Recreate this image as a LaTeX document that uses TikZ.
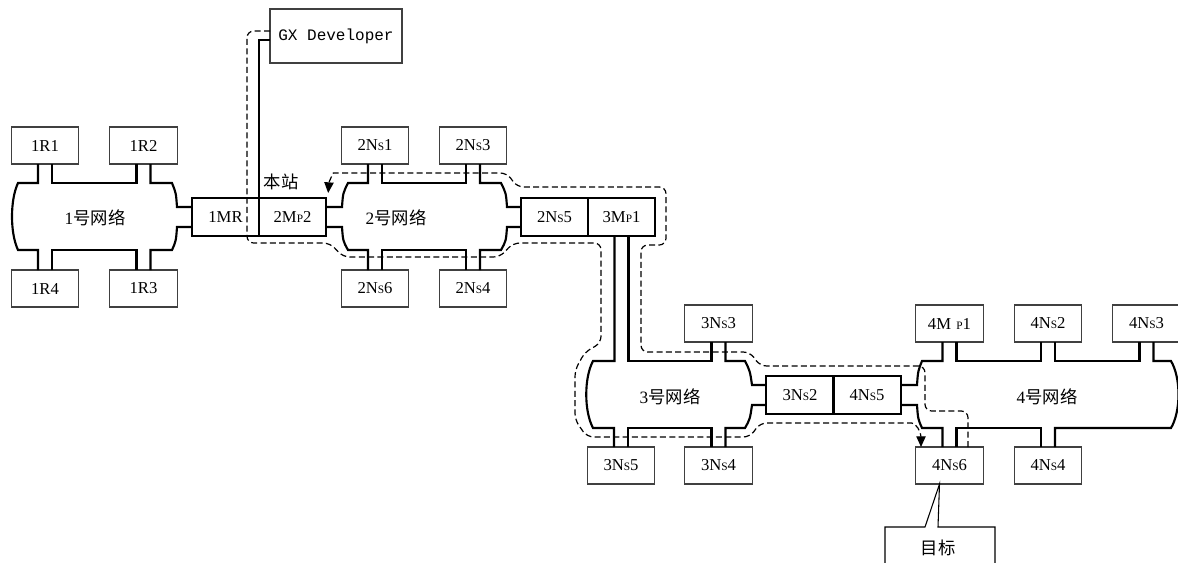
\documentclass[tikz,border=0pt]{standalone}
\usepackage{fontspec}
\setmainfont{Liberation Serif}
\setmonofont{Liberation Mono}
\newfontfamily\cjk{Noto Sans CJK SC}
\usetikzlibrary{arrows.meta,calc}
\newcommand{\sm}[1]{{\fontsize{8.5}{8.5}\selectfont #1}}

\begin{document}
\begin{tikzpicture}[
  x=0.75pt, y=-0.75pt,
  box/.style={draw=black!75, line width=0.9pt, minimum width=50.5pt, minimum height=27.75pt,
              inner sep=0pt, outer sep=0pt, font=\fontsize{12.5}{14}\selectfont},
  relay/.style={box, draw=black, line width=1.5pt, minimum height=28.5pt},
  net/.style={line width=1.6pt},
  netname/.style={font=\fontsize{13}{15}\selectfont},
  route/.style={draw=black, dash pattern=on 4.5pt off 2.5pt, line width=0.9pt, rounded corners=5pt},
  >={Triangle[length=8pt,width=7pt]}
]
  \useasboundingbox (0,0) rectangle (1178,562);
  \clip (0,0) rectangle (1178,562);

  % network 1
  \node[box] (r1) at (45,145.5) {1R1};
  \node[box] (r2) at (143.5,145.5) {1R2};
  \node[box] (r4) at (45,288.5) {1R4};
  \node[box] (r3) at (143.5,288.5) {1R3};
  \node[netname] (net1) at (95,218) {1{\cjk 号网络}};

  \node[relay] (mr1) at (225.5,217) {1MR};
  \node[relay] (mp2) at (292.5,217) {2M\sm{P}2};
  \node[box, minimum width=99pt, minimum height=40.5pt,
        font=\ttfamily\fontsize{12}{14}\selectfont] (gx) at (336,36) {GX Developer};
  \node[netname] (here) at (281,182) {\cjk 本站};

  % network 2
  \node[box] (ns21) at (375,145.5) {2N\sm{S}1};
  \node[box] (ns23) at (473,145.5) {2N\sm{S}3};
  \node[box] (ns26) at (375,288.5) {2N\sm{S}6};
  \node[box] (ns24) at (473,288.5) {2N\sm{S}4};
  \node[netname] (net2) at (396,218) {2{\cjk 号网络}};

  \node[relay] (ns25) at (554.5,217) {2N\sm{S}5};
  \node[relay] (mp31) at (621.5,217) {3M\sm{P}1};

  % network 3
  \node[box] (ns33) at (718.5,323.5) {3N\sm{S}3};
  \node[box] (ns35) at (621,465.5) {3N\sm{S}5};
  \node[box] (ns34) at (718.5,465.5) {3N\sm{S}4};
  \node[netname] (net3) at (670,397) {3{\cjk 号网络}};

  \node[relay] (ns32) at (800,395) {3N\sm{S}2};
  \node[relay] (ns45) at (867,395) {4N\sm{S}5};

  % network 4
  \node[box] (mp41) at (949.5,323.5) {4M\hspace{4pt}\sm{P}1};
  \node[box] (ns42) at (1048,323.5) {4N\sm{S}2};
  \node[box] (ns43) at (1146.5,323.5) {4N\sm{S}3};
  \node[box] (ns46) at (949.5,465.5) {4N\sm{S}6};
  \node[box] (ns44) at (1048,465.5) {4N\sm{S}4};
  \node[netname] (net4) at (1047,397) {4{\cjk 号网络}};

  \node[netname] (target) at (938,548) {\cjk 目标};

  % network outlines
  \draw[net] ($(r1.south)+(-7,0)$) |- (18,183) .. controls (10,200) and (10,233) .. (18,250) -| ($(r4.north)+(-7,0)$);
  \draw[net] ($(r4.north)+(7,0)$) -- ++(0,-20) -| ($(r3.north)+(-7,0)$);
  \draw[net] ($(r3.north)+(7,0)$) |- (172,250) .. controls (176,241) .. (177,227) -- ($(mr1.west)+(0,10)$);
  \draw[net] ($(mr1.west)+(0,-10)$) -- (177,207) .. controls (176,193) .. (172,183) -| ($(r2.south)+(7,0)$);
  \draw[net] ($(r2.south)+(-7,0)$) -- ++(0,19) -| ($(r1.south)+(7,0)$);

  \draw[net] ($(mp2.east)+(0,-10)$) -- (342,207) .. controls (343,193) .. (348,183) -| ($(ns21.south)+(-7,0)$);
  \draw[net] ($(ns21.south)+(7,0)$) -- ++(0,19) -| ($(ns23.south)+(-7,0)$);
  \draw[net] ($(ns23.south)+(7,0)$) |- (501,183) .. controls (506,193) .. (507,207) -- ($(ns25.west)+(0,-10)$);
  \draw[net] ($(ns25.west)+(0,10)$) -- (507,227) .. controls (506,241) .. (501,250) -| ($(ns24.north)+(7,0)$);
  \draw[net] ($(ns24.north)+(-7,0)$) -- ++(0,-20) -| ($(ns26.north)+(7,0)$);
  \draw[net] ($(ns26.north)+(-7,0)$) |- (348,250) .. controls (343,241) .. (342,227) -- ($(mp2.east)+(0,10)$);

  \draw[net] ($(mp31.south)+(-7,0)$) |- (593,361) .. controls (584,378) and (584,411) .. (593,428) -| ($(ns35.north)+(-7,0)$);
  \draw[net] ($(ns35.north)+(7,0)$) -- ++(0,-19) -| ($(ns34.north)+(-7,0)$);
  \draw[net] ($(ns34.north)+(7,0)$) |- (745,428) .. controls (750,419) .. (752,405) -- ($(ns32.west)+(0,10)$);
  \draw[net] ($(ns32.west)+(0,-10)$) -- (752,385) .. controls (750,371) .. (745,361) -| ($(ns33.south)+(7,0)$);
  \draw[net] ($(ns33.south)+(-7,0)$) -- ++(0,19) -| ($(mp31.south)+(7,0)$);

  \draw[net] ($(ns45.east)+(0,-10)$) -- (917,385) .. controls (918,371) .. (922,361) -| ($(mp41.south)+(-7,0)$);
  \draw[net] ($(mp41.south)+(7,0)$) -- ++(0,19) -| ($(ns42.south)+(-7,0)$);
  \draw[net] ($(ns42.south)+(7,0)$) -- ++(0,19) -| ($(ns43.south)+(-7,0)$);
  \draw[net] ($(ns43.south)+(7,0)$) |- (1171,361) .. controls (1181,378) and (1181,411) .. (1171,428) -| ($(ns44.north)+(7,0)$);
  \draw[net] ($(ns44.north)+(-7,0)$) -- ++(0,-19) -| ($(ns46.north)+(7,0)$);
  \draw[net] ($(ns46.north)+(-7,0)$) |- (922,428) .. controls (918,419) .. (917,405) -- ($(ns45.east)+(0,10)$);

  % programming tool
  \draw[line width=1.1pt] ($(gx.west)+(0,4)$) -| (mp2.north west);

  % callout
  \draw[line width=0.8pt] (885,570) |- (925,527) -- ($(ns46.south)+(-10,0)$) -- (938,527) -- (995,527) -- (995,570);

  % routes
  \draw[route,->] ($(gx.west)+(0,-5)$) -| (247,243) -- (330,243) -- (343,257) -- (500,257) -- (513,243)
    -- (601,243) -- (601,343) -- (585,352) -- (575,370) -- (575,420) -- (587,437) -- (750,437)
    -- (760,423) -- (905,423) .. controls (916,423) and (921,432) .. ($(ns46.north)+(-28.5,0)$);
  \draw[route,->] ($(ns46.north)+(18.5,0)$) -- (968,411) -- (925,411) -- (925,366) -- (760,366)
    -- (750,352) -- (641,352) -- (641,245) -- (666,245) -- (666,187) -- (517,187) -- (507,173)
    -- (340,173) .. controls (333,173) and (329,182) .. ($(mp2.north east)+(2,-5)$);
\end{tikzpicture}
\end{document}
